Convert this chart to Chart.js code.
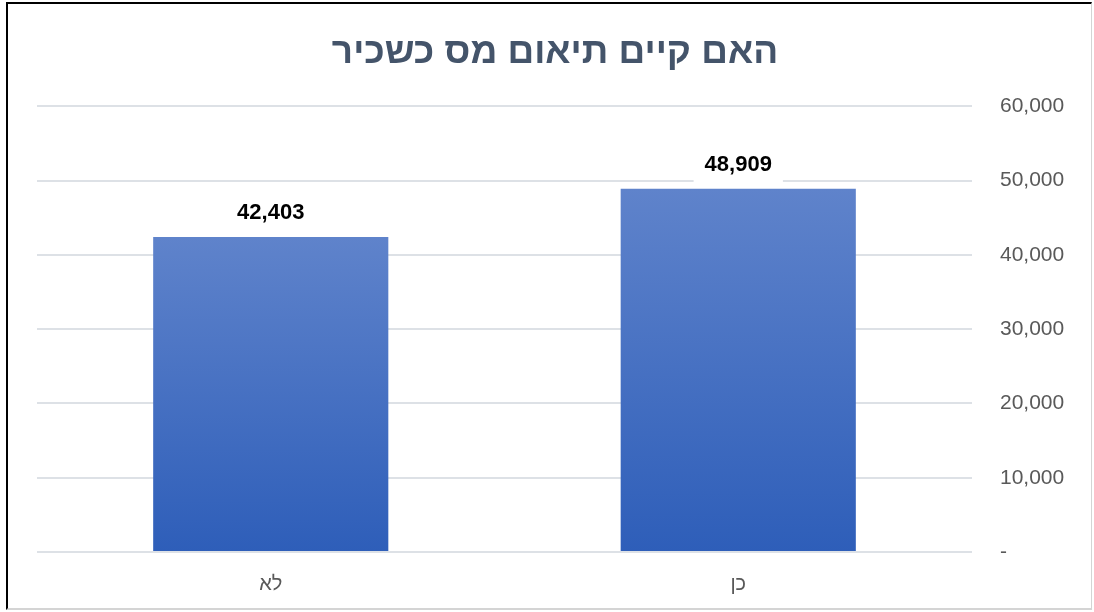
<!DOCTYPE html>
<html><head><meta charset="utf-8">
<script src="https://cdn.jsdelivr.net/npm/chart.js@4.4.1/dist/chart.umd.min.js"></script>
<style>
html,body{margin:0;padding:0;background:#fff;width:1094px;height:612px;overflow:hidden;}
#wrap{position:absolute;left:6px;top:2px;width:1083px;height:604px;border-left:2px solid #000;border-top:2px solid #000;border-right:1px solid #d4d4d4;border-bottom:2px solid #d4d4d4;}
</style></head>
<body>
<div id="wrap"><canvas id="c"></canvas></div>
<script>
const titleText = 'האם קיים תיאום מס כשכיר';
const categories = ['לא', 'כן'];
const values = [42403, 48909];
const yTicks = [0, 10000, 20000, 30000, 40000, 50000, 60000];

const fmt = v => v === 0 ? '-' : v.toLocaleString('en-US');

const labelPlugin = {
  id: 'valLabels',
  afterDatasetsDraw(chart) {
    const ctx = chart.ctx;
    const meta = chart.getDatasetMeta(0);
    ctx.save();
    ctx.font = 'bold 22px "Liberation Sans", Arial, sans-serif';
    ctx.textAlign = 'center';
    ctx.textBaseline = 'middle';
    meta.data.forEach((bar, i) => {
      const txt = fmt(values[i]);
      const w = ctx.measureText(txt).width + 22;
      const h = 36;
      const cx = bar.x, cy = bar.y - 24;
      ctx.fillStyle = '#ffffff';
      ctx.fillRect(cx - w / 2, cy - h / 2, w, h);
      ctx.fillStyle = '#000000';
      ctx.fillText(txt, cx, cy);
    });
    ctx.restore();
  }
};

new Chart(document.getElementById('c'), {
  type: 'bar',
  data: {
    labels: categories,
    datasets: [{
      data: values,
      yAxisID: 'y',
      backgroundColor: (context) => {
        const chart = context.chart;
        const area = chart.chartArea;
        if (!area) return '#4472C4';
        const ys = chart.scales.y;
        const top = ys.getPixelForValue(context.raw ?? 0);
        const bottom = ys.getPixelForValue(0);
        const g = chart.ctx.createLinearGradient(0, top, 0, bottom);
        g.addColorStop(0, '#5F83CB');
        g.addColorStop(1, '#2E5EB9');
        return g;
      },
      borderWidth: 0,
      barPercentage: 0.503,
      categoryPercentage: 1.0
    }]
  },
  options: {
    responsive: true,
    maintainAspectRatio: false,
    animation: false,
    layout: { padding: { left: 11, right: 0, top: 8, bottom: 0 } },
    plugins: {
      legend: { display: false },
      tooltip: { enabled: false },
      title: {
        display: true,
        text: titleText,
        color: '#44546A',
        font: { family: '"Liberation Sans", Arial, sans-serif', size: 37, weight: 'bold' },
        padding: { top: 19, bottom: 31 }
      }
    },
    scales: {
      x: {
        grid: { display: false },
        border: { display: false },
        ticks: {
          color: '#595959',
          font: { family: '"Liberation Sans", Arial, sans-serif', size: 20 },
          padding: 12
        }
      },
      y: {
        position: 'right',
        min: 0,
        max: 60000,
        afterBuildTicks: (axis) => { axis.ticks = yTicks.map(v => ({ value: v })); },
        afterFit: (axis) => { axis.width = 119; },
        grid: { color: '#DDE1E6', lineWidth: 2, drawTicks: false },
        border: { display: false },
        ticks: {
          color: '#595959',
          font: { family: '"Liberation Sans", Arial, sans-serif', size: 21 },
          padding: 28,
          crossAlign: 'near',
          callback: (v) => fmt(v)
        }
      },
      yLeft: {
        position: 'left',
        min: 0,
        max: 60000,
        display: true,
        afterFit: (axis) => { axis.width = 18; },
        grid: { display: false, drawTicks: false },
        border: { display: false },
        ticks: { display: false }
      }
    }
  },
  plugins: [labelPlugin]
});
</script>
</body></html>
